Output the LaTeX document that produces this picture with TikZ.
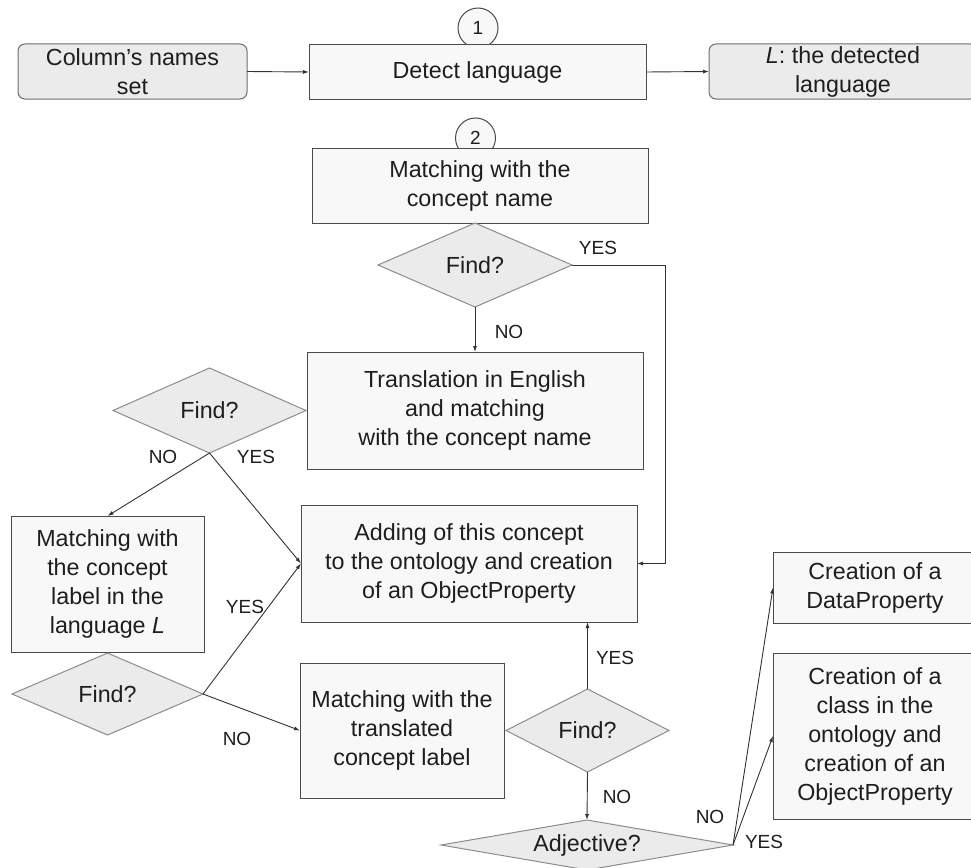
\documentclass[tikz,border=0pt]{standalone}
\usepackage{fontspec}
\setmainfont{Liberation Sans}
\usetikzlibrary{shapes.geometric,arrows.meta}
\definecolor{boxfill}{HTML}{F8F8F8}
\definecolor{grayfill}{HTML}{EBEBEB}
\definecolor{boxline}{HTML}{4A4A4A}
\definecolor{diamline}{HTML}{8C8C8C}
\definecolor{roundline}{HTML}{6E6E6E}
\definecolor{txt}{HTML}{1E1E1E}
\definecolor{arrowc}{HTML}{333333}
\begin{document}
\begin{tikzpicture}[x=1pt,y=-1pt,
  every node/.style={text=txt, inner sep=0pt, outer sep=0pt, align=center, font=\fontsize{23.3}{29}\selectfont},
  rectbox/.style={rectangle, draw=boxline, fill=boxfill, line width=1pt},
  roundbox/.style={rectangle, rounded corners=7pt, draw=roundline, fill=grayfill, line width=1pt},
  decision/.style={diamond, draw=diamline, fill=grayfill, line width=1pt, aspect=2},
  stepnum/.style={circle, draw=boxline, fill=boxfill, line width=1pt, minimum size=40pt, font=\fontsize{19}{22}\selectfont},
  lbl/.style={font=\fontsize{19}{22}\selectfont},
  conn/.style={draw=arrowc, line width=0.9pt, -{Latex[length=6pt,width=4pt]}},
]
\clip (0,0) rectangle (971,867);
\fill[white] (0,0) rectangle (971,867);

\node[stepnum] (n1) at (478,28) {1};
\node[stepnum] (n2) at (475.5,138) {2};

\node[roundbox, minimum width=229pt, minimum height=55pt] (col) at (132.5,71.5) {Column’s names\\set};
\node[rectbox, minimum width=337pt, minimum height=54pt] (detect) at (477.5,72) {Detect language};
\node[roundbox, minimum width=268pt, minimum height=55pt] (lang) at (843,71.5) {\textit{L}: the detected\\language};

\node[rectbox, minimum width=336pt, minimum height=75pt] (m1) at (480,185.5) {Matching with the\\concept name};
\node[decision, minimum width=194pt, minimum height=84pt] (f1) at (475,265) {Find?};
\node[rectbox, minimum width=336pt, minimum height=117pt] (trans) at (475,410.5) {Translation in English\\and matching\\with the concept name};
\node[decision, minimum width=193pt, minimum height=85pt] (f2) at (209.5,410.5) {Find?};
\node[rectbox, minimum width=193pt, minimum height=136pt] (mL) at (107.5,584) {Matching with\\the concept\\label in the\\language \textit{L}};
\node[decision, minimum width=191pt, minimum height=82pt] (f3) at (107.5,694) {Find?};
\node[rectbox, minimum width=336pt, minimum height=117pt] (add) at (469,563.5) {Adding of this concept\\to the ontology and creation\\of an ObjectProperty};
\node[rectbox, minimum width=204pt, minimum height=135pt] (mT) at (402,730.5) {Matching with the\\translated\\concept label};
\node[decision, minimum width=163pt, minimum height=83pt] (f4) at (587.5,730.5) {Find?};
\node[decision, aspect=5.8, minimum width=292pt, minimum height=50pt] (adj) at (587,845) {Adjective?};
\node[rectbox, minimum width=204pt, minimum height=71pt] (dp) at (875,587.5) {Creation of a\\DataProperty};
\node[rectbox, minimum width=204pt, minimum height=166pt] (cls) at (875,736) {Creation of a\\class in the\\ontology and\\creation of an\\ObjectProperty};

\coordinate (bend) at (665,265);

\draw[conn] (col.east) -- (detect.west);
\draw[conn] (detect.east) -- (lang.west);
\draw[conn] (f1.east) -- (bend) |- (add.east);
\draw[conn] (f1.south) -- (trans.north);
\draw[conn] (f2.south) -- (mL.north);
\draw[conn] (f2.south) -- (add.west);
\draw[conn] (f3.east) -- (add.west);
\draw[conn] (f3.east) -- (mT.west);
\draw[conn] (f4.north) -- (f4.north |- add.south);
\draw[conn] (f4.south) -- (adj.north);
\draw[conn] (adj.east) -- (dp.west);
\draw[conn] (adj.east) -- (cls.west);

\node[lbl] (y1) at (598,248) {YES};
\node[lbl] (no1) at (509,332) {NO};
\node[lbl] (no2) at (163,457) {NO};
\node[lbl] (y2) at (256,457) {YES};
\node[lbl] (y3) at (245,607) {YES};
\node[lbl] (no3) at (237,739) {NO};
\node[lbl] (y4) at (615,658) {YES};
\node[lbl] (no4) at (617,797) {NO};
\node[lbl] (no5) at (710,817) {NO};
\node[lbl] (y5) at (764,842) {YES};
\end{tikzpicture}
\end{document}
